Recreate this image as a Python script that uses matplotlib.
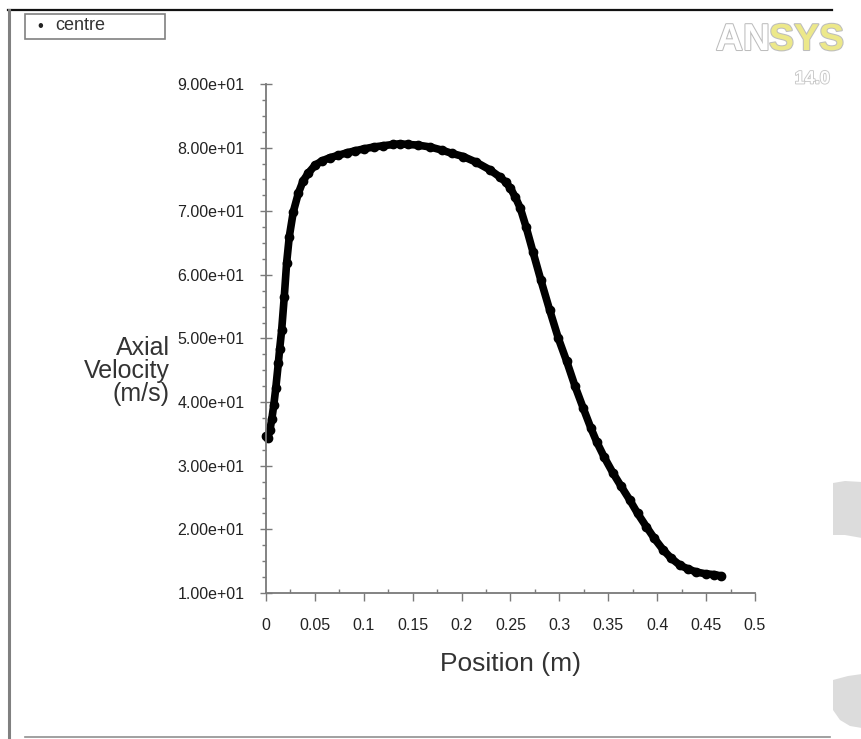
import matplotlib
matplotlib.use("Agg")
import matplotlib.pyplot as plt
import matplotlib.patheffects as pe
from matplotlib.patches import Rectangle, Polygon
from matplotlib.lines import Line2D
from matplotlib.ticker import FixedLocator, MultipleLocator, FormatStrFormatter

# axial velocity sampled along the centre line
position = [0.000, 0.002, 0.004, 0.006, 0.008, 0.010, 0.0126, 0.014, 0.016, 0.0187,
            0.0211, 0.0238, 0.0279, 0.033, 0.038, 0.0433, 0.050, 0.057, 0.065, 0.074,
            0.083, 0.091, 0.100, 0.110, 0.120, 0.130, 0.137, 0.145, 0.155, 0.168,
            0.180, 0.190, 0.2017, 0.215, 0.229, 0.239, 0.245, 0.250, 0.255, 0.260,
            0.266, 0.273, 0.281, 0.290, 0.299, 0.3075, 0.316, 0.3245, 0.332, 0.338,
            0.346, 0.355, 0.363, 0.372, 0.380, 0.389, 0.397, 0.406, 0.414, 0.423,
            0.431, 0.440, 0.450, 0.458, 0.465]
velocity = [34.6, 34.4, 35.6, 37.4, 39.6, 42.2, 46.1, 48.4, 51.3, 56.6,
            61.9, 66.0, 69.9, 72.8, 74.8, 76.0, 77.2, 77.9, 78.4, 78.8,
            79.2, 79.5, 79.8, 80.1, 80.3, 80.5, 80.6, 80.5, 80.4, 80.1,
            79.6, 79.1, 78.6, 77.7, 76.5, 75.4, 74.6, 73.6, 72.2, 70.5,
            67.5, 63.6, 59.2, 54.5, 50.0, 46.4, 42.5, 39.0, 36.0, 33.8,
            31.3, 28.8, 26.8, 24.6, 22.5, 20.4, 18.6, 16.8, 15.5, 14.4,
            13.8, 13.3, 13.0, 12.9, 12.7]

x_ticks = [0, 0.05, 0.1, 0.15, 0.2, 0.25, 0.3, 0.35, 0.4, 0.45, 0.5]
x_ticklabels = ["0", "0.05", "0.1", "0.15", "0.2", "0.25", "0.3", "0.35", "0.4", "0.45", "0.5"]
y_ticks = [10, 20, 30, 40, 50, 60, 70, 80, 90]

W, H = 862, 739
plt.rcParams["font.family"] = ["Liberation Sans", "DejaVu Sans"]


def px(x, y):
    """pixel position -> figure fraction"""
    return x / W, 1 - y / H


fig = plt.figure(figsize=(W / 100, H / 100), dpi=100)
ax = fig.add_axes([266 / W, 1 - 593 / H, 489 / W, 509 / H])

ax.plot(position, velocity, color="black", lw=5.5, marker="o", ms=6,
        solid_capstyle="round", clip_on=False)

ax.set_xlim(0, 0.5)
ax.set_ylim(10, 90)
for side in ("top", "right"):
    ax.spines[side].set_visible(False)
for side in ("left", "bottom"):
    ax.spines[side].set_color("#7a7a7a")
    ax.spines[side].set_linewidth(1.3)

ax.xaxis.set_major_locator(FixedLocator(x_ticks))
ax.set_xticklabels(x_ticklabels)
ax.xaxis.set_minor_locator(MultipleLocator(0.025))
ax.yaxis.set_major_locator(FixedLocator(y_ticks))
ax.yaxis.set_major_formatter(FormatStrFormatter("%.2e"))
ax.yaxis.set_minor_locator(MultipleLocator(2.5))

ax.tick_params(axis="x", which="major", direction="out", length=6, width=1,
               color="#7a7a7a", pad=12, labelsize=11.5, labelcolor="#222222")
ax.tick_params(axis="x", which="minor", direction="in", length=3, width=1,
               color="#7a7a7a")
ax.tick_params(axis="y", which="major", direction="inout", length=9, width=1,
               color="#7a7a7a", pad=11, labelsize=11.5, labelcolor="#222222")
ax.tick_params(axis="y", which="minor", direction="out", length=3, width=1,
               color="#7a7a7a")

ax.set_xlabel("Position (m)", fontsize=19, color="#333333", labelpad=14)
fig.text(*px(170, 371), "Axial\nVelocity\n(m/s)", ha="right", va="center",
         fontsize=18, color="#333333", linespacing=0.95)

# frame lines around the plot window
fig.add_artist(Line2D([8 / W, 832 / W], [1 - 10 / H, 1 - 10 / H], color="#111111", lw=1.6))
fig.add_artist(Line2D([9 / W, 9 / W], [1 - 10 / H, 0], color="#808080", lw=2.2))
fig.add_artist(Line2D([25 / W, 830 / W], [1 - 737 / H, 1 - 737 / H], color="#909090", lw=1.2))

# legend box
lx, ly = px(25, 39)
fig.add_artist(Rectangle((lx, ly), 140 / W, 25 / H, transform=fig.transFigure,
                         facecolor="white", edgecolor="#808080", lw=1.2))
fig.text(*px(40, 26), "\u2022", ha="center", va="center", fontsize=12, color="#222222")
fig.text(*px(55, 26), "centre", ha="left", va="center", fontsize=13, color="#333333")

# product logo
outline = [pe.withStroke(linewidth=1.5, foreground="#bdbdbd")]
fig.text(*px(770, 40), "AN", ha="right", va="center", fontsize=27, weight="bold",
         color="white", path_effects=outline)
fig.text(*px(769, 40), "SYS", ha="left", va="center", fontsize=27, weight="bold",
         color="#ece88a", path_effects=outline)
fig.text(*px(830, 79), "14.0", ha="right", va="center", fontsize=13, weight="bold",
         color="white", path_effects=[pe.withStroke(linewidth=1.3, foreground="#c8c8c8")])

# light grey shapes at the right edge
shape_a = [(833, 483), (845, 481), (862, 482), (862, 538), (845, 535), (833, 535)]
shape_b = [(833, 680), (848, 676), (862, 674), (862, 728), (850, 726), (840, 720), (833, 710)]
for shape in (shape_a, shape_b):
    fig.add_artist(Polygon([px(x, y) for x, y in shape], closed=True,
                           transform=fig.transFigure, facecolor="#dcdcdc",
                           edgecolor="none"))

fig.savefig("out.png", dpi=100)
